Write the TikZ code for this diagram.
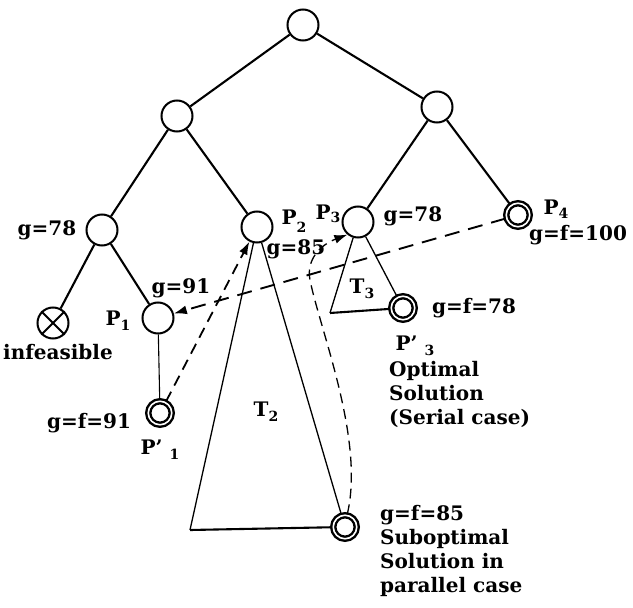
\documentclass[tikz,border=0pt]{standalone}
\usepackage{fontspec}
\setmainfont{DejaVu Serif}
\usetikzlibrary{arrows.meta}
\newcommand\sbs[2][5pt]{\raisebox{-#1}{\fontsize{14}{14}\selectfont #2}}
\begin{document}
\begin{tikzpicture}[x=1pt,y=-1pt,
  nd/.style={circle, draw, line width=2pt, minimum size=31pt, inner sep=0pt},
  dnd/.style={circle, draw, line width=2.4pt, double, double distance=1.6pt, minimum size=23.5pt, inner sep=0pt},
  edge/.style={line width=2.1pt},
  thinl/.style={line width=1.3pt},
  tip/.style={-{Latex[length=13pt,width=9pt]}},
  dsh/.style={line width=1.9pt, dash pattern=on 15pt off 9pt, tip},
  dshs/.style={line width=1.8pt, dash pattern=on 11pt off 7pt, tip},
  lbl/.style={inner sep=0pt, font=\fontsize{20}{24}\selectfont\bfseries}]
\useasboundingbox (0,0) rectangle (633,608);
% tree nodes
\node[nd] (root) at (303,25) {};
\node[nd] (L) at (177,116) {};
\node[nd] (R) at (437,107) {};
\node[nd] (LL) at (102,230) {};
\node[nd] (P2) at (257,227) {};
\node[nd] (P3) at (358,222) {};
\node[dnd] (P4) at (518,215) {};
\node[nd] (inf) at (53,323) {};
\node[nd] (P1) at (158,318) {};
\node[dnd] (P1p) at (160,413) {};
\node[dnd] (P3p) at (403,308) {};
\node[dnd] (sub) at (345,527) {};
\coordinate (T3c) at (330,313);
\coordinate (T2c) at (190,530);
% tree edges
\draw[edge] (root) -- (L);
\draw[edge] (root) -- (R);
\draw[edge] (L) -- (LL);
\draw[edge] (L) -- (P2);
\draw[edge] (R) -- (P3);
\draw[edge] (R) -- (P4);
\draw[edge] (LL) -- (inf);
\draw[edge] (LL) -- (P1);
\draw[line width=1.1pt] (P1) -- (P1p);
\draw[edge] (inf.45) -- (inf.225) (inf.135) -- (inf.315);
% subtrees
\draw[thinl] (P2) -- (T2c);
\draw[edge] (T2c) -- (sub);
\draw[thinl] (P2) -- (sub);
\draw[thinl] (P3) -- (T3c);
\draw[edge] (T3c) -- (P3p);
\draw[thinl] (P3) -- (P3p);
% dashed arrows
\draw[dsh] (P4) -- (P1);
\draw[dshs] (P1p) -- (P2);
\draw[line width=1.3pt, dash pattern=on 10pt off 6pt, tip]
  (sub.80) .. controls (365,440) and (320,330) .. (310,280)
  .. controls (306,260) and (320,245) .. (P3.230);
% labels
\node[lbl] (tLL) at (47,230) {g=78};
\node[lbl] (tP1) at (118,321) {P\sbs{1}};
\node[lbl] (t91) at (181,288) {g=91};
\node[lbl] (tinf) at (58,352) {infeasible};
\node[lbl] (tP2) at (294,221) {P\sbs[8pt]{2}};
\node[lbl] (tP3) at (328,214) {P\sbs[3pt]{3}};
\node[lbl] (t85) at (296,249) {g=85};
\node[lbl] (tP3g) at (413,216) {g=78};
\node[lbl] (tP4) at (556,209) {P\sbs[4pt]{4}};
\node[lbl] (tP4g) at (578,235) {g=f=100};
\node[lbl] (tT3) at (362,289) {T\sbs{3}};
\node[lbl] (tP3pg) at (474,308) {g=f=78};
\node[lbl] (tP3p) at (415,346) {P’ \sbs{3}};
\node[lbl, anchor=west, align=left] (topt) at (389,394) {Optimal\\Solution\\(Serial case)};
\node[lbl] (tP1pg) at (89,423) {g=f=91};
\node[lbl] (tP1p) at (160,450) {P’ \sbs{1}};
\node[lbl] (tT2) at (266,412) {T\sbs{2}};
\node[lbl, anchor=north west, align=left] (tsub) at (380,505) {g=f=85\\Suboptimal\\Solution in\\parallel case};
\end{tikzpicture}
\end{document}
